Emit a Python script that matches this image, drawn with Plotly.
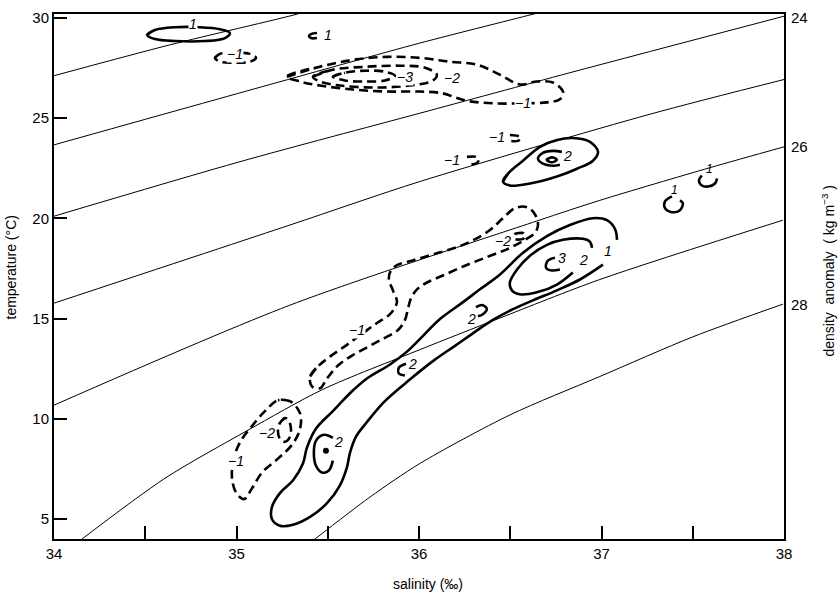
import plotly.graph_objects as go

# ---------------- isopycnals (sigma-t) ----------------
sig22_S = [34.0, 34.635, 35.331, 35.40]
sig22_T = [27.12, 28.66, 30.19, 30.38]
sig23_S = [34.0, 35.183, 36.005, 36.646, 36.70]
sig23_T = [23.67, 26.68, 28.75, 30.24, 30.37]
sig24_S = [34.0, 35.019, 36.005, 36.827, 38.0]
sig24_T = [20.11, 22.83, 25.25, 27.27, 30.09]
sig25_S = [34.0, 35.293, 36.005, 37.266, 38.0]
sig25_T = [15.77, 19.67, 21.84, 25.20, 26.93]
sig26_S = [34.0, 35.293, 36.646, 36.991, 37.594, 38.0]
sig26_T = [10.68, 15.67, 19.87, 20.90, 22.53, 23.57]
sig27_S = [34.142, 34.608, 35.057, 35.474, 36.005, 36.444, 36.991, 37.994]
sig27_T = [3.92, 7.03, 9.40, 11.47, 13.45, 15.03, 16.95, 19.91]
sig28_S = [35.419, 35.731, 36.005, 36.498, 36.991, 37.501, 37.994]
sig28_T = [3.92, 6.09, 7.77, 10.19, 12.11, 14.09, 15.72]

density_labels = ["24", "26", "28"]
density_label_T = [30.05, 23.57, 15.72]

# ---------------- positive (solid) contours ----------------
pos1_top_S = [34.510, 34.553, 34.663, 34.800, 34.909, 34.964, 34.937, 34.827, 34.663, 34.553]
pos1_top_T = [29.15, 29.40, 29.54, 29.54, 29.44, 29.25, 29.00, 28.85, 28.85, 28.95]
pos1_c_S = [35.441, 35.408, 35.397, 35.408, 35.441]
pos1_c_T = [29.25, 29.20, 29.10, 29.00, 29.00]
pos1_mid_S = [36.460, 36.498, 36.570, 36.663, 36.756, 36.843, 36.937, 36.981, 36.953, 36.866, 36.756, 36.608, 36.498]
pos1_mid_T = [21.84, 22.33, 22.88, 23.57, 23.91, 24.01, 23.82, 23.32, 22.88, 22.48, 22.09, 21.74, 21.64]
pos2_mid_S = [36.783, 36.734, 36.679, 36.652, 36.679, 36.734, 36.772]
pos2_mid_T = [23.32, 23.37, 23.27, 22.98, 22.73, 22.63, 22.68]
pos3_mid_S = [36.700, 36.727, 36.755, 36.727]
pos3_mid_T = [22.93, 23.05, 22.93, 22.80]
pos1_r1_S = [37.386, 37.348, 37.348, 37.386, 37.430, 37.446, 37.430]
pos1_r1_T = [21.10, 20.85, 20.51, 20.31, 20.41, 20.75, 20.90]
pos1_r2_S = [37.550, 37.534, 37.550, 37.583, 37.622, 37.633]
pos1_r2_T = [22.14, 21.89, 21.64, 21.59, 21.74, 21.99]
pos1_big_S = [37.085, 37.074, 37.030, 36.953, 36.827, 36.701, 36.570, 36.444, 36.334, 36.241,
              36.115, 36.022, 35.934, 35.841, 35.715, 35.633, 35.528, 35.435, 35.386,
              35.364, 35.310, 35.238, 35.194, 35.194, 35.238, 35.310, 35.403, 35.496, 35.567,
              35.605, 35.622, 35.654, 35.715, 35.813, 35.950, 36.087, 36.197, 36.307, 36.405,
              36.515, 36.624, 36.756, 36.882, 37.008]
pos1_big_T = [18.93, 19.47, 19.91, 20.01, 19.67, 19.12, 18.29, 17.20, 16.46, 15.82,
              14.98, 14.14, 13.35, 12.71, 12.01, 11.37, 10.38, 9.50, 8.56,
              7.77, 6.93, 6.29, 5.59, 5.00, 4.66, 4.71, 5.10, 5.79, 6.68,
              7.57, 8.31, 9.10, 9.84, 10.88, 11.96, 12.95, 13.64, 14.34, 14.93,
              15.47, 15.91, 16.41, 16.95, 17.69]
pos2_big_S = [36.948, 36.937, 36.898, 36.789, 36.701, 36.608, 36.537, 36.498, 36.509, 36.553, 36.646, 36.756, 36.843]
pos2_big_T = [18.53, 18.83, 18.98, 18.93, 18.68, 18.14, 17.45, 16.80, 16.41, 16.21, 16.31, 16.70, 17.30]
pos3_big_S = [36.745, 36.706, 36.696, 36.728, 36.772]
pos3_big_T = [18.04, 17.89, 17.54, 17.40, 17.45]
pos2_c1_S = [36.312, 36.350, 36.372, 36.350, 36.323]
pos2_c1_T = [15.57, 15.67, 15.47, 15.22, 15.12]
pos2_c2_S = [35.929, 35.890, 35.890, 35.923]
pos2_c2_T = [12.75, 12.56, 12.26, 12.16]
pos2_low_S = [35.528, 35.479, 35.435, 35.424, 35.435, 35.468, 35.506, 35.528]
pos2_low_T = [9.05, 9.20, 8.90, 8.31, 7.67, 7.32, 7.42, 7.91]
dot_S = [35.490]
dot_T = [8.41]

# ---------------- negative (dashed) contours ----------------
neg1_top_S = [34.882, 34.909, 34.992, 35.074, 35.107, 35.074, 34.992, 34.909]
neg1_top_T = [28.01, 28.21, 28.26, 28.21, 28.01, 27.82, 27.77, 27.82]
neg1_nest_S = [35.276, 35.457, 35.638, 35.824, 36.005, 36.170, 36.318, 36.444, 36.553, 36.646,
               36.734, 36.789, 36.772, 36.701, 36.570, 36.416, 36.279, 36.213, 36.131, 36.005,
               35.824, 35.638, 35.457, 35.348]
neg1_nest_T = [27.07, 27.57, 27.91, 28.06, 28.01, 27.82, 27.67, 27.17, 26.68, 26.83,
               26.78, 26.33, 25.94, 25.79, 25.74, 25.74, 25.84, 25.99, 26.24, 26.33,
               26.33, 26.43, 26.63, 26.83]
neg2_nest_S = [35.419, 35.528, 35.715, 35.896, 36.033, 36.098, 36.076, 35.950, 35.748, 35.567, 35.457]
neg2_nest_T = [27.07, 27.42, 27.57, 27.62, 27.52, 27.17, 26.88, 26.63, 26.53, 26.63, 26.83]
neg3_nest_S = [35.528, 35.594, 35.704, 35.813, 35.868, 35.813, 35.704, 35.594]
neg3_nest_T = [27.07, 27.27, 27.37, 27.32, 27.12, 26.88, 26.83, 26.88]
neg1_b1_S = [36.498, 36.542, 36.559, 36.542, 36.498]
neg1_b1_T = [24.16, 24.11, 24.01, 23.87, 23.87]
neg1_b2_S = [36.263, 36.312, 36.328, 36.312, 36.263]
neg1_b2_T = [23.07, 23.07, 22.93, 22.73, 22.73]
neg1_big_S = [35.403, 35.446, 35.512, 35.605, 35.687, 35.770, 35.841, 35.879, 35.857, 35.835,
              35.846, 35.885, 35.961, 36.071, 36.181, 36.279, 36.389, 36.460, 36.526, 36.591,
              36.635, 36.652, 36.635, 36.580, 36.487, 36.378, 36.252, 36.131, 36.044, 35.989,
              35.956, 35.939, 35.923, 35.885, 35.802, 35.720, 35.633, 35.556, 35.496, 35.457, 35.413]
neg1_big_T = [12.11, 12.61, 13.10, 13.69, 14.24, 14.78, 15.22, 15.82, 16.41, 16.95,
              17.40, 17.69, 17.89, 18.19, 18.48, 18.83, 19.42, 20.01, 20.51, 20.56,
              20.21, 19.67, 19.27, 18.93, 18.48, 18.09, 17.64, 17.15, 16.80, 16.46,
              16.01, 15.47, 14.93, 14.43, 13.99, 13.59, 13.15, 12.66, 12.01, 11.52, 11.62]
neg2_tiny_S = [36.526, 36.570, 36.581, 36.570, 36.526]
neg2_tiny_T = [19.22, 19.27, 19.12, 18.98, 18.98]
neg1_low_S = [35.293, 35.227, 35.156, 35.085, 35.024, 34.986, 34.975, 34.997, 35.041, 35.085,
              35.140, 35.227, 35.304, 35.348, 35.348]
neg1_low_T = [10.88, 10.93, 10.38, 9.64, 8.90, 8.06, 7.08, 6.33, 5.99, 6.53,
              7.32, 8.01, 8.70, 9.49, 10.28]
neg2_low_S = [35.266, 35.238, 35.227, 35.238, 35.266, 35.293, 35.298, 35.287]
neg2_low_T = [10.04, 9.79, 9.40, 9.00, 8.85, 9.10, 9.54, 9.89]

# ---------------- contour labels ----------------
lab_masked_text = ["1", "−1", "−3", "−2", "−1", "1", "−1", "−1"]
lab_masked_S = [34.761, 34.992, 35.923, 36.180, 36.570, 37.035, 35.660, 34.997]
lab_masked_T = [29.69, 28.21, 27.07, 27.03, 25.74, 18.38, 14.43, 7.87]
lab_free_text = ["1", "−1", "−1", "2", "2", "3", "−2", "2", "2", "−2", "2"]
lab_free_S = [35.501, 36.427, 36.181, 36.811, 36.904, 36.783, 36.460, 36.285, 35.967, 35.167, 35.561]
lab_free_T = [29.15, 24.06, 22.93, 23.12, 17.94, 18.04, 18.88, 14.98, 12.75, 9.30, 8.85]
lab_small_text = ["1", "1"]
lab_small_S = [37.402, 37.594]
lab_small_T = [21.40, 22.48]

x_tickvals = [34, 35, 36, 37, 38]
x_minor_tickvals = [34.5, 35.5, 36.5, 37.5]
y_tickvals = [5, 10, 15, 20, 25, 30]

FONT = "Liberation Sans"
fig = go.Figure()

isos = [(sig22_S, sig22_T), (sig23_S, sig23_T), (sig24_S, sig24_T), (sig25_S, sig25_T),
        (sig26_S, sig26_T), (sig27_S, sig27_T), (sig28_S, sig28_T)]
for s, t in isos:
    fig.add_trace(go.Scatter(x=s, y=t, mode="lines",
                             line=dict(color="black", width=1, shape="spline", smoothing=0.8),
                             hoverinfo="skip"))


def add_contour(s, t, dashed, closed):
    xs, ys = list(s), list(t)
    if closed:
        xs = xs + xs[:2]
        ys = ys + ys[:2]
    fig.add_trace(go.Scatter(
        x=xs, y=ys, mode="lines",
        line=dict(color="black", width=2.6, shape="spline", smoothing=1.0,
                  dash="9px,5px" if dashed else "solid"),
        hoverinfo="skip"))


solid_closed = [(pos1_top_S, pos1_top_T), (pos1_mid_S, pos1_mid_T), (pos3_mid_S, pos3_mid_T)]
solid_open = [(pos1_c_S, pos1_c_T), (pos2_mid_S, pos2_mid_T), (pos1_r1_S, pos1_r1_T),
              (pos1_r2_S, pos1_r2_T), (pos1_big_S, pos1_big_T), (pos2_big_S, pos2_big_T),
              (pos3_big_S, pos3_big_T), (pos2_c1_S, pos2_c1_T), (pos2_c2_S, pos2_c2_T),
              (pos2_low_S, pos2_low_T)]
dashed_closed = [(neg1_top_S, neg1_top_T), (neg1_nest_S, neg1_nest_T), (neg2_nest_S, neg2_nest_T),
                 (neg3_nest_S, neg3_nest_T), (neg1_big_S, neg1_big_T), (neg2_tiny_S, neg2_tiny_T),
                 (neg1_low_S, neg1_low_T), (neg2_low_S, neg2_low_T)]
dashed_open = [(neg1_b1_S, neg1_b1_T), (neg1_b2_S, neg1_b2_T)]

for s, t in solid_closed:
    add_contour(s, t, False, True)
for s, t in solid_open:
    add_contour(s, t, False, False)
for s, t in dashed_closed:
    add_contour(s, t, True, True)
for s, t in dashed_open:
    add_contour(s, t, True, False)

fig.add_trace(go.Scatter(x=dot_S, y=dot_T, mode="markers",
                         marker=dict(color="black", size=6), hoverinfo="skip"))

for txt, s, t in zip(lab_masked_text, lab_masked_S, lab_masked_T):
    fig.add_annotation(x=s, y=t, xref="x", yref="y", text="<i>" + txt + "</i>", showarrow=False,
                       xanchor="center", yanchor="middle",
                       font=dict(family=FONT, size=14, color="black"), bgcolor="white", borderpad=0)
for txt, s, t in zip(lab_free_text, lab_free_S, lab_free_T):
    fig.add_annotation(x=s, y=t, xref="x", yref="y", text="<i>" + txt + "</i>", showarrow=False,
                       xanchor="center", yanchor="middle",
                       font=dict(family=FONT, size=14, color="black"))
for txt, s, t in zip(lab_small_text, lab_small_S, lab_small_T):
    fig.add_annotation(x=s, y=t, xref="x", yref="y", text="<i>" + txt + "</i>", showarrow=False,
                       xanchor="center", yanchor="middle",
                       font=dict(family=FONT, size=12, color="black"))

for txt, t in zip(density_labels, density_label_T):
    fig.add_annotation(x=38, y=t, xref="x", yref="y", text=txt, showarrow=False,
                       xanchor="left", yanchor="middle", xshift=5,
                       font=dict(family=FONT, size=15, color="black"))

fig.add_annotation(x=-0.059, y=0.517, xref="paper", yref="paper", text="temperature (°C)",
                   xanchor="center", yanchor="middle",
                   textangle=-90, showarrow=False, font=dict(family=FONT, size=14, color="black"))
fig.add_annotation(x=1.060, y=0.511, xref="paper", yref="paper",
                   text="density  anomaly  ( kg m<sup>−3</sup> )",
                   xanchor="center", yanchor="middle",
                   textangle=-90, showarrow=False, font=dict(family=FONT, size=14, color="black"))
fig.add_annotation(x=0.512, y=-0.085, xref="paper", yref="paper", text="salinity (‰)",
                   xanchor="center", yanchor="middle",
                   showarrow=False, font=dict(family=FONT, size=14, color="black"))

fig.update_layout(
    width=840, height=597,
    margin=dict(l=54, r=56, t=9, b=58),
    plot_bgcolor="white", paper_bgcolor="white",
    showlegend=False,
    hovermode=False,
    xaxis=dict(range=[34, 38], tickvals=x_tickvals,
               ticks="inside", ticklen=13, tickwidth=2, tickcolor="black",
               minor=dict(tickvals=x_minor_tickvals, ticks="inside", ticklen=13,
                          tickwidth=2, tickcolor="black", showgrid=False),
               showline=True, linewidth=2, linecolor="black", mirror=True,
               showgrid=False, zeroline=False,
               tickfont=dict(family=FONT, size=15, color="black")),
    yaxis=dict(range=[4.0, 30.2], tickvals=y_tickvals,
               ticks="inside", ticklen=13, tickwidth=2, tickcolor="black",
               showline=True, linewidth=2, linecolor="black", mirror=True,
               showgrid=False, zeroline=False,
               tickfont=dict(family=FONT, size=15, color="black")),
)

fig.write_html("out.html", config={"displayModeBar": False, "staticPlot": True},
               post_script="document.body.style.margin='0px';document.body.style.overflow='hidden';")
